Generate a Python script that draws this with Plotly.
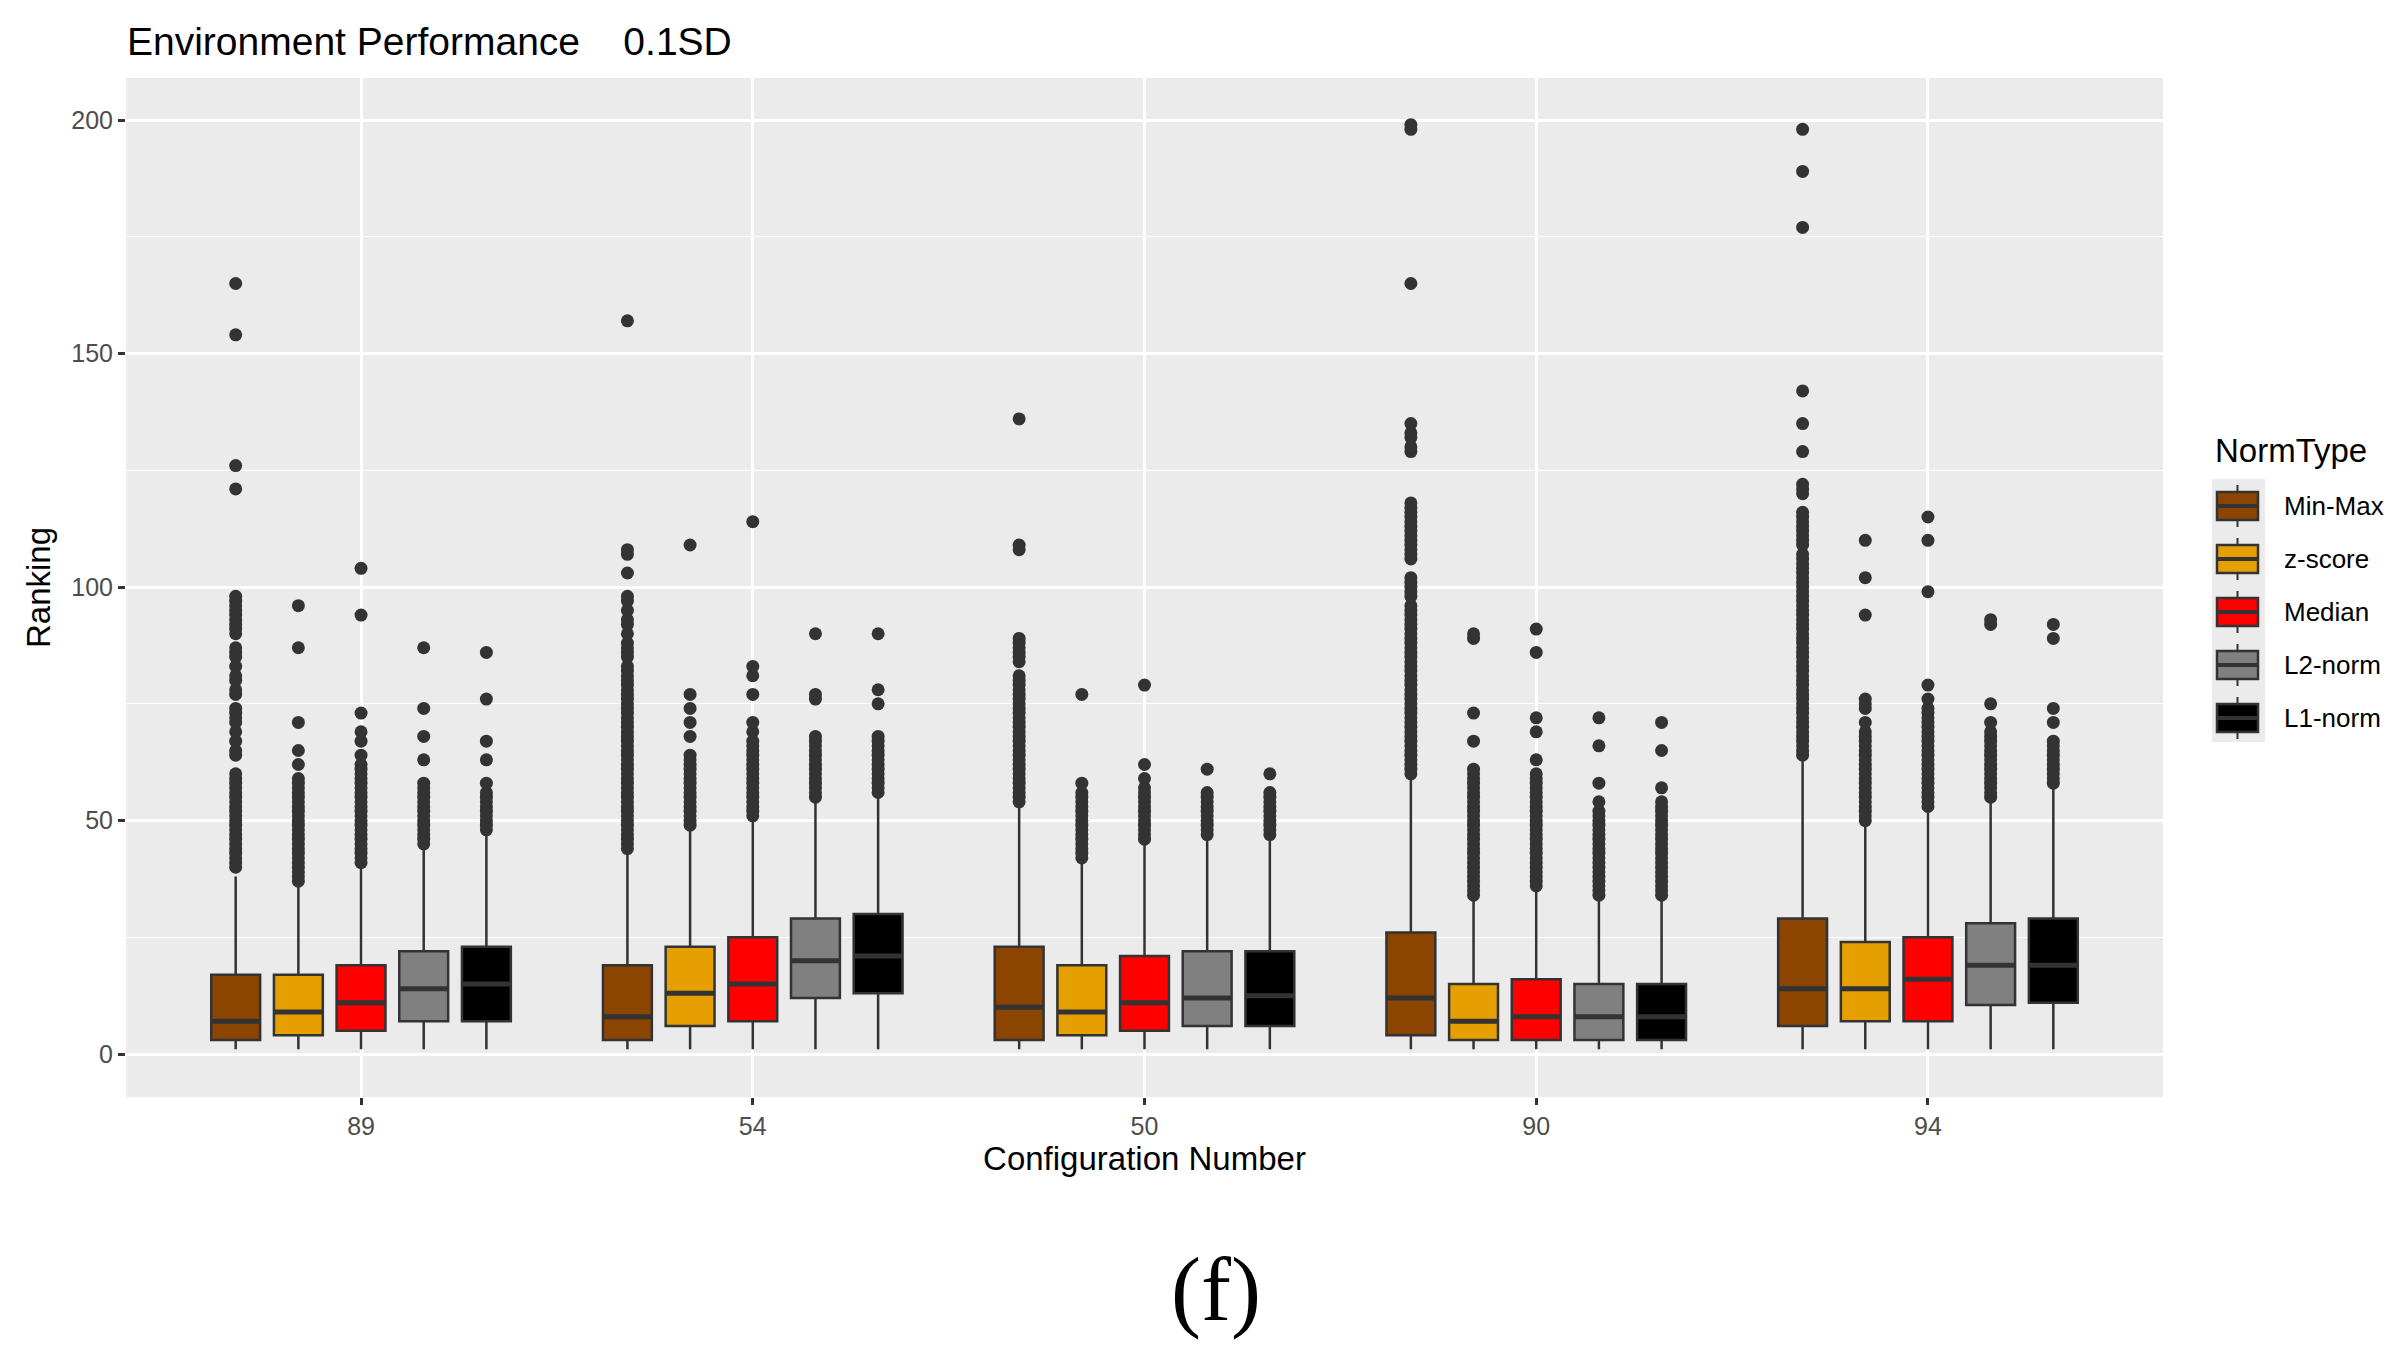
import plotly.graph_objects as go

# configurations and normalisation types
configs = ["89", "54", "50", "90", "94"]
norms = ["Min-Max", "z-score", "Median", "L2-norm", "L1-norm"]
colors = ["#8B4500", "#E69F00", "#FF0000", "#808080", "#000000"]

# box stats, one value per configuration (89, 54, 50, 90, 94)
q1_minmax = [3, 3, 3, 4, 6]
med_minmax = [7, 8, 10, 12, 14]
q3_minmax = [17, 19, 23, 26, 29]
uf_minmax = [38, 43, 53, 59, 63]

q1_zscore = [4, 6, 4, 3, 7]
med_zscore = [9, 13, 9, 7, 14]
q3_zscore = [17, 23, 19, 15, 24]
uf_zscore = [36, 48, 41, 33, 49]

q1_median = [5, 7, 5, 3, 7]
med_median = [11, 15, 11, 8, 16]
q3_median = [19, 25, 21, 16, 25]
uf_median = [40, 50, 45, 35, 52]

q1_l2 = [7, 12, 6, 3, 10.5]
med_l2 = [14, 20, 12, 8, 19]
q3_l2 = [22, 29, 22, 15, 28]
uf_l2 = [44, 54, 46, 33, 54]

q1_l1 = [7, 13, 6, 3, 11]
med_l1 = [15, 21, 12.5, 8, 19]
q3_l1 = [23, 30, 22, 15, 29]
uf_l1 = [47, 55, 46, 33, 57]

lower_fence = [1, 1, 1, 1, 1]

# outliers per configuration
out_minmax = [
    [165, 154, 126, 121, 98, 97, 96, 95, 94, 93, 92, 91, 90, 87, 86, 85, 83, 81, 80, 78, 77, 74, 73, 72, 71,
     69, 67, 65, 64, 60, 59, 58, 57, 56, 55, 54, 53, 52, 51, 50, 49, 48, 47, 46, 45, 44, 43, 42, 41, 40],
    [157, 108, 107, 103, 98, 97, 95, 93, 92, 90, 88, 87, 86, 85, 83, 82, 81, 80, 79, 78, 77, 76, 75, 74, 73,
     72, 71, 70, 69, 68, 67, 66, 65, 64, 63, 62, 61, 60, 59, 58, 57, 56, 55, 54, 53, 52, 51, 50, 49, 48, 47,
     46, 45, 44],
    [136, 109, 108, 89, 88, 87, 86, 85, 84, 81, 80, 79, 78, 77, 76, 75, 74, 73, 72, 71, 70, 69, 68, 67, 66,
     65, 64, 63, 62, 61, 60, 59, 58, 57, 56, 55, 54],
    [199, 198, 165, 135, 133, 132, 130, 129, 118, 117, 116, 115, 114, 113, 112, 111, 110, 109, 108, 107, 106,
     102, 101, 100, 99, 98, 96, 95, 94, 93, 92, 91, 90, 89, 88, 87, 86, 85, 84, 83, 82, 81, 80, 79, 78, 77,
     76, 75, 74, 73, 72, 71, 70, 69, 68, 67, 66, 65, 64, 63, 62, 61, 60],
    [198, 189, 177, 142, 135, 129, 122, 121, 120, 116, 115, 114, 113, 112, 111, 110, 109, 107, 106, 105, 104,
     103, 102, 101, 100, 99, 98, 97, 96, 95, 94, 93, 92, 91, 90, 89, 88, 87, 86, 85, 84, 83, 82, 81, 80, 79,
     78, 77, 76, 75, 74, 73, 72, 71, 70, 69, 68, 67, 66, 65, 64],
]
out_zscore = [
    [96, 87, 71, 65, 62, 59, 58, 57, 56, 55, 54, 53, 52, 51, 50, 49, 48, 47, 46, 45, 44, 43, 42, 41, 40, 39,
     38, 37],
    [109, 77, 74, 71, 68, 64, 63, 62, 61, 60, 59, 58, 57, 56, 55, 54, 53, 52, 51, 50, 49],
    [77, 58, 56, 55, 54, 53, 52, 51, 50, 49, 48, 47, 46, 45, 44, 43, 42],
    [90, 89, 73, 67, 61, 60, 59, 58, 57, 56, 55, 54, 53, 52, 51, 50, 49, 48, 47, 46, 45, 44, 43, 42, 41, 40,
     39, 38, 37, 36, 35, 34],
    [110, 102, 94, 76, 75, 74, 71, 69, 68, 67, 66, 65, 64, 63, 62, 61, 60, 59, 58, 57, 56, 55, 54, 53, 52,
     51, 50],
]
out_median = [
    [104, 94, 73, 69, 67, 64, 62, 61, 60, 59, 58, 57, 56, 55, 54, 53, 52, 51, 50, 49, 48, 47, 46, 45, 44, 43,
     42, 41],
    [114, 83, 81, 77, 71, 69, 67, 66, 65, 64, 63, 62, 61, 60, 59, 58, 57, 56, 55, 54, 53, 52, 51],
    [79, 62, 59, 57, 56, 55, 54, 53, 52, 51, 50, 49, 48, 47, 46],
    [91, 86, 72, 69, 63, 60, 59, 58, 57, 56, 55, 54, 53, 52, 51, 50, 49, 48, 47, 46, 45, 44, 43, 42, 41, 40,
     39, 38, 37, 36],
    [115, 110, 99, 79, 76, 74, 73, 72, 71, 70, 69, 68, 67, 66, 65, 64, 63, 62, 61, 60, 59, 58, 57, 56, 55,
     54, 53],
]
out_l2 = [
    [87, 74, 68, 63, 58, 57, 56, 55, 54, 53, 52, 51, 50, 49, 48, 47, 46, 45],
    [90, 77, 76, 68, 67, 66, 65, 64, 63, 62, 61, 60, 59, 58, 57, 56, 55],
    [61, 56, 55, 54, 53, 52, 51, 50, 49, 48, 47],
    [72, 66, 58, 54, 52, 51, 50, 49, 48, 47, 46, 45, 44, 43, 42, 41, 40, 39, 38, 37, 36, 35, 34],
    [93, 92, 75, 71, 69, 68, 67, 66, 65, 64, 63, 62, 61, 60, 59, 58, 57, 56, 55],
]
out_l1 = [
    [86, 76, 67, 63, 58, 56, 55, 54, 53, 52, 51, 50, 49, 48],
    [90, 78, 75, 68, 67, 66, 65, 64, 63, 62, 61, 60, 59, 58, 57, 56],
    [60, 56, 55, 54, 53, 52, 51, 50, 49, 48, 47],
    [71, 65, 57, 54, 53, 52, 51, 50, 49, 48, 47, 46, 45, 44, 43, 42, 41, 40, 39, 38, 37, 36, 35, 34],
    [92, 89, 74, 71, 67, 66, 65, 64, 63, 62, 61, 60, 59, 58],
]

q1s = [q1_minmax, q1_zscore, q1_median, q1_l2, q1_l1]
meds = [med_minmax, med_zscore, med_median, med_l2, med_l1]
q3s = [q3_minmax, q3_zscore, q3_median, q3_l2, q3_l1]
ufs = [uf_minmax, uf_zscore, uf_median, uf_l2, uf_l1]
outs = [out_minmax, out_zscore, out_median, out_l2, out_l1]

FONT = "Liberation Sans"
EDGE = "#333333"

# window pixels -> paper coords (page body has an 8px margin)
W, H = 2391, 1333
L, R, T, B = 118, 236, 70, 244
def px(x):
    return (x - 8 - L) / (W - L - R)
def py(y):
    return (H - B - (y - 8)) / (H - T - B)

fig = go.Figure()
for i, name in enumerate(norms):
    fig.add_trace(go.Box(
        x=configs, y=outs[i],
        q1=q1s[i], median=meds[i], q3=q3s[i],
        lowerfence=lower_fence, upperfence=ufs[i],
        name=name, offsetgroup=name, alignmentgroup="a",
        fillcolor=colors[i],
        line=dict(color=EDGE, width=2.5),
        marker=dict(color=EDGE, size=13, line=dict(width=0)),
        boxpoints="outliers", jitter=0, pointpos=0, whiskerwidth=0,
        showlegend=False, hoverinfo="skip",
    ))
    # thicker median bar, as ggplot draws it
    fig.add_trace(go.Box(
        x=configs, q1=meds[i], median=meds[i], q3=meds[i],
        lowerfence=meds[i], upperfence=meds[i],
        name=name, offsetgroup=name, alignmentgroup="a",
        fillcolor="rgba(0,0,0,0)",
        line=dict(color=EDGE, width=5),
        boxpoints=False, whiskerwidth=0,
        showlegend=False, hoverinfo="skip",
    ))

fig.update_layout(
    width=W, height=H,
    paper_bgcolor="white", plot_bgcolor="#EBEBEB",
    margin=dict(l=L, r=R, t=T, b=B),
    font=dict(family=FONT, color="black"),
    boxmode="group", boxgap=0.2, boxgroupgap=0.22,
    title=dict(text="Environment Performance\u00a0\u00a0\u00a0 0.1SD",
               x=(127 - 8) / W, xref="container", xanchor="left",
               y=1 - (41 - 8) / H, yanchor="middle",
               font=dict(family=FONT, size=39, color="black")),
    showlegend=False,
)
fig.update_xaxes(
    type="category", range=[-0.6, 4.6],
    showgrid=True, gridcolor="white", gridwidth=2.5,
    ticks="outside", ticklen=7, tickwidth=2.5, tickcolor=EDGE,
    tickfont=dict(size=25, color="#4D4D4D"),
    title=dict(text="Configuration Number", font=dict(size=33), standoff=2),
    showline=False, zeroline=False,
)
fig.update_yaxes(
    range=[-9.2, 209], tickvals=[0, 50, 100, 150, 200],
    showgrid=True, gridcolor="white", gridwidth=2.5,
    minor=dict(tickvals=[25, 75, 125, 175], showgrid=True, gridcolor="white", gridwidth=1.2),
    ticks="outside", ticklen=7, tickwidth=2.5, tickcolor=EDGE,
    tickfont=dict(size=25, color="#4D4D4D"),
    title=dict(text="Ranking", font=dict(size=33), standoff=10),
    showline=False, zeroline=False,
)

# legend drawn ggplot-style: grey key strip with box glyphs
shapes = [dict(type="rect", xref="paper", yref="paper",
               x0=px(2212), x1=px(2265), y0=py(742), y1=py(479),
               fillcolor="#EBEBEB", line=dict(width=0), layer="below")]
annotations = [dict(text="NormType", x=px(2213), y=py(450), xref="paper", yref="paper",
                    xanchor="left", yanchor="middle", showarrow=False,
                    font=dict(family=FONT, size=33, color="black"))]
for i, name in enumerate(norms):
    yc = 506 + 53 * i
    shapes.append(dict(type="line", xref="paper", yref="paper",
                       x0=px(2237.5), x1=px(2237.5), y0=py(yc + 21), y1=py(yc - 21),
                       line=dict(color=EDGE, width=2)))
    shapes.append(dict(type="rect", xref="paper", yref="paper",
                       x0=px(2217), x1=px(2258), y0=py(yc + 14), y1=py(yc - 14),
                       fillcolor=colors[i], line=dict(color=EDGE, width=2.5)))
    shapes.append(dict(type="line", xref="paper", yref="paper",
                       x0=px(2217), x1=px(2258), y0=py(yc), y1=py(yc),
                       line=dict(color=EDGE, width=4)))
    annotations.append(dict(text=name, x=px(2282), y=py(yc), xref="paper", yref="paper",
                            xanchor="left", yanchor="middle", showarrow=False,
                            font=dict(family=FONT, size=26, color="black")))

annotations.append(dict(text="(f)", x=px(1216), y=py(1290), xref="paper", yref="paper",
                        showarrow=False, xanchor="center", yanchor="middle",
                        font=dict(family="Liberation Serif", size=90, color="black")))
fig.update_layout(shapes=shapes, annotations=annotations)

fig.write_html("out.html")
